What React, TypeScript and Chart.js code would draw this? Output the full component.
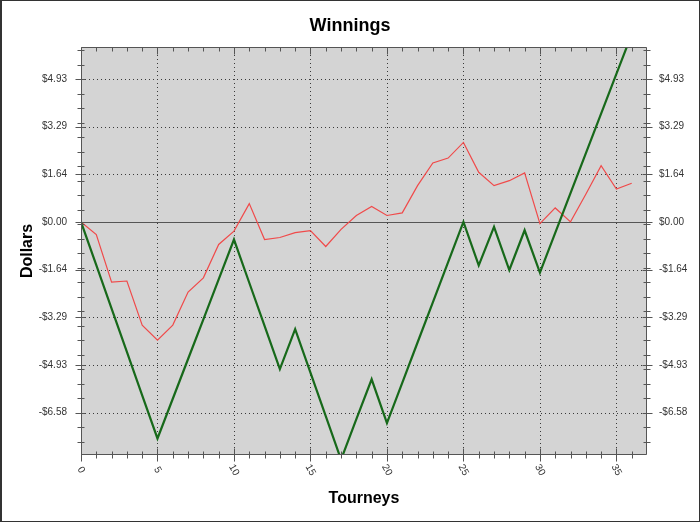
import React, { useEffect, useRef } from "react";
import { Chart, registerables } from "chart.js";

Chart.register(...registerables);

const chartTitle = "Winnings";
const xTitle = "Tourneys";
const yTitle = "Dollars";

const tourneys = [0, 1, 2, 3, 4, 5, 6, 7, 8, 9, 10, 11, 12, 13, 14, 15, 16, 17, 18, 19, 20, 21, 22, 23, 24, 25, 26, 27, 28, 29, 30, 31, 32, 33, 34, 35, 36];

const greenSeries = [0, -1.49, -2.99, -4.48, -5.98, -7.47, -6.1, -4.73, -3.36, -1.98, -0.61, -2.1, -3.59, -5.08, -3.7, -5.2, -6.7, -8.2, -6.8, -5.43, -6.94, -5.55, -4.16, -2.78, -1.39, 0, -1.5, -0.17, -1.66, -0.29, -1.75, -0.38, 0.99, 2.36, 3.73, 5.1, 6.47];

const redSeries = [0, -0.44, -2.08, -2.04, -3.56, -4.08, -3.56, -2.42, -1.93, -0.78, -0.32, 0.63, -0.61, -0.54, -0.37, -0.3, -0.85, -0.26, 0.22, 0.53, 0.22, 0.31, 1.25, 2.03, 2.2, 2.74, 1.71, 1.25, 1.42, 1.69, -0.06, 0.48, 0, 0.95, 1.94, 1.13, 1.33];

const yTickValues = [-6.576, -4.932, -3.288, -1.644, 0, 1.644, 3.288, 4.932];
const yTickLabels = ["-$6.58", "-$4.93", "-$3.29", "-$1.64", "$0.00", "$1.64", "$3.29", "$4.93"];

const xTickValues = [0, 5, 10, 15, 20, 25, 30, 35];
const xTickLabels = ["0", "5", "10", "15", "20", "25", "30", "35"];

const X_MIN = 0;
const X_MAX = 37;
const Y_MIN = -8.04;
const Y_MAX = 6.03;

const FONT = "'Liberation Sans', Arial, sans-serif";

const decorPlugin = {
  id: "decor",
  beforeDraw(chart: any) {
    const { ctx, chartArea: a } = chart;
    ctx.save();
    ctx.fillStyle = "#ffffff";
    ctx.fillRect(0, 0, chart.width, chart.height);
    ctx.fillStyle = "#d4d4d4";
    ctx.fillRect(a.left, a.top, a.right - a.left, a.bottom - a.top);
    ctx.restore();
  },
  beforeDatasetsDraw(chart: any) {
    const { ctx, chartArea: a, scales } = chart;
    const xs = scales.x;
    const ys = scales.y;
    ctx.save();
    ctx.lineWidth = 1;
    ctx.strokeStyle = "#3a3a3a";
    ctx.setLineDash([1, 3]);
    xTickValues.forEach((v) => {
      if (v === X_MIN) return;
      const px = Math.round(xs.getPixelForValue(v)) + 0.5;
      ctx.beginPath();
      ctx.moveTo(px, a.top);
      ctx.lineTo(px, a.bottom);
      ctx.stroke();
    });
    yTickValues.forEach((v) => {
      if (v === 0) return;
      const py = Math.round(ys.getPixelForValue(v)) + 0.5;
      ctx.beginPath();
      ctx.moveTo(a.left, py);
      ctx.lineTo(a.right, py);
      ctx.stroke();
    });
    ctx.setLineDash([]);
    ctx.strokeStyle = "#555555";
    const zy = Math.round(ys.getPixelForValue(0)) + 0.5;
    ctx.beginPath();
    ctx.moveTo(a.left, zy);
    ctx.lineTo(a.right, zy);
    ctx.stroke();
    ctx.restore();
  },
  afterDatasetsDraw(chart: any) {
    const { ctx, chartArea: a, scales } = chart;
    const xs = scales.x;
    const ys = scales.y;
    ctx.save();
    ctx.strokeStyle = "#555555";
    ctx.lineWidth = 1;
    const L = Math.round(a.left) + 0.5;
    const R = Math.round(a.right) - 0.5;
    const T = Math.round(a.top) + 0.5;
    const B = Math.round(a.bottom) - 0.5;
    ctx.beginPath();
    ctx.moveTo(L, T);
    ctx.lineTo(R, T);
    ctx.lineTo(R, B);
    ctx.lineTo(L, B);
    ctx.closePath();
    ctx.stroke();

    const seg = (x1: number, y1: number, x2: number, y2: number) => {
      ctx.beginPath();
      ctx.moveTo(x1, y1);
      ctx.lineTo(x2, y2);
      ctx.stroke();
    };
    for (let v = -8.08 + 0.5; v < Y_MAX; v += 0.5) {
      if (v < Y_MIN) continue;
      const py = Math.round(ys.getPixelForValue(v)) + 0.5;
      seg(L - 4, py, L + 3, py);
      seg(R - 3, py, R + 4, py);
    }
    yTickValues.forEach((v) => {
      const py = Math.round(ys.getPixelForValue(v)) + 0.5;
      seg(L - 6, py, L + 4, py);
      seg(R - 4, py, R + 6, py);
    });
    for (let v = X_MIN + 1; v < X_MAX; v += 1) {
      const px = Math.round(xs.getPixelForValue(v)) + 0.5;
      seg(px, B - 3, px, B + 4);
      seg(px, T, px, T + 4);
    }
    xTickValues.forEach((v) => {
      const px = Math.round(xs.getPixelForValue(v)) + 0.5;
      seg(px, B - 6, px, B + 7);
      seg(px, T, px, T + 7);
    });

    ctx.fillStyle = "#333333";
    ctx.font = `10px ${FONT}`;
    ctx.textAlign = "center";
    ctx.textBaseline = "middle";
    xTickValues.forEach((v, i) => {
      const px = xs.getPixelForValue(v);
      ctx.save();
      ctx.translate(px, a.bottom + 15);
      ctx.rotate((60 * Math.PI) / 180);
      ctx.fillText(xTickLabels[i], 0, 0);
      ctx.restore();
    });

    ctx.fillStyle = "#000000";
    ctx.textBaseline = "alphabetic";
    ctx.font = `bold 18px ${FONT}`;
    ctx.fillText(chartTitle, chart.width / 2, 31);
    ctx.font = `bold 16px ${FONT}`;
    ctx.fillText(xTitle, (a.left + a.right) / 2, 503);
    ctx.save();
    ctx.translate(32, (a.top + a.bottom) / 2);
    ctx.rotate(-Math.PI / 2);
    ctx.fillText(yTitle, 0, 0);
    ctx.restore();

    ctx.strokeStyle = "#333333";
    ctx.strokeRect(0.5, 0.5, chart.width - 1, chart.height - 1);
    ctx.beginPath();
    ctx.moveTo(1.5, 0);
    ctx.lineTo(1.5, chart.height);
    ctx.stroke();
    ctx.restore();
  },
};

function yAxis(position: "left" | "right", width: number, padding: number) {
  return {
    type: "linear",
    position,
    min: Y_MIN,
    max: Y_MAX,
    afterBuildTicks: (s: any) => {
      s.ticks = yTickValues.map((v) => ({ value: v }));
    },
    afterFit: (s: any) => {
      s.width = width;
    },
    grid: { display: false, drawTicks: false, tickLength: 0 },
    border: { display: false },
    ticks: {
      autoSkip: false,
      padding,
      color: "#333333",
      font: { family: FONT, size: 10 },
      callback: (_v: any, i: number) => yTickLabels[i],
    },
  };
}

export default function App() {
  const ref = useRef<HTMLCanvasElement>(null);
  useEffect(() => {
    document.body.style.margin = "0";
    const canvas = ref.current!;
    const chart = new Chart(canvas, {
      type: "line",
      data: {
        datasets: [
          {
            data: tourneys.map((t, i) => ({ x: t, y: greenSeries[i] })),
            borderColor: "#17691a",
            borderWidth: 2.2,
            pointRadius: 0,
            tension: 0,
            clip: 0,
          },
          {
            data: tourneys.map((t, i) => ({ x: t, y: redSeries[i] })),
            borderColor: "#f04a4a",
            borderWidth: 1.2,
            pointRadius: 0,
            tension: 0,
            clip: 0,
          },
        ],
      },
      options: {
        animation: false,
        responsive: false,
        devicePixelRatio: 1,
        layout: { padding: { top: 47, left: 0, right: 0, bottom: 0 } },
        plugins: {
          legend: { display: false },
          title: { display: false },
          tooltip: { enabled: false },
        },
        scales: {
          x: {
            type: "linear",
            position: "bottom",
            min: X_MIN,
            max: X_MAX,
            afterBuildTicks: (s: any) => {
              s.ticks = xTickValues.map((v) => ({ value: v }));
            },
            afterFit: (s: any) => {
              s.height = 67;
            },
            grid: { display: false, drawTicks: false, tickLength: 0 },
            border: { display: false },
            ticks: { display: false },
          },
          y: yAxis("left", 81, 14),
          y2: yAxis("right", 53, 12),
        },
      } as any,
      plugins: [decorPlugin],
    });
    return () => chart.destroy();
  }, []);
  return (
    <canvas
      ref={ref}
      width={700}
      height={522}
      style={{ display: "block", width: 700, height: 522 }}
    />
  );
}
